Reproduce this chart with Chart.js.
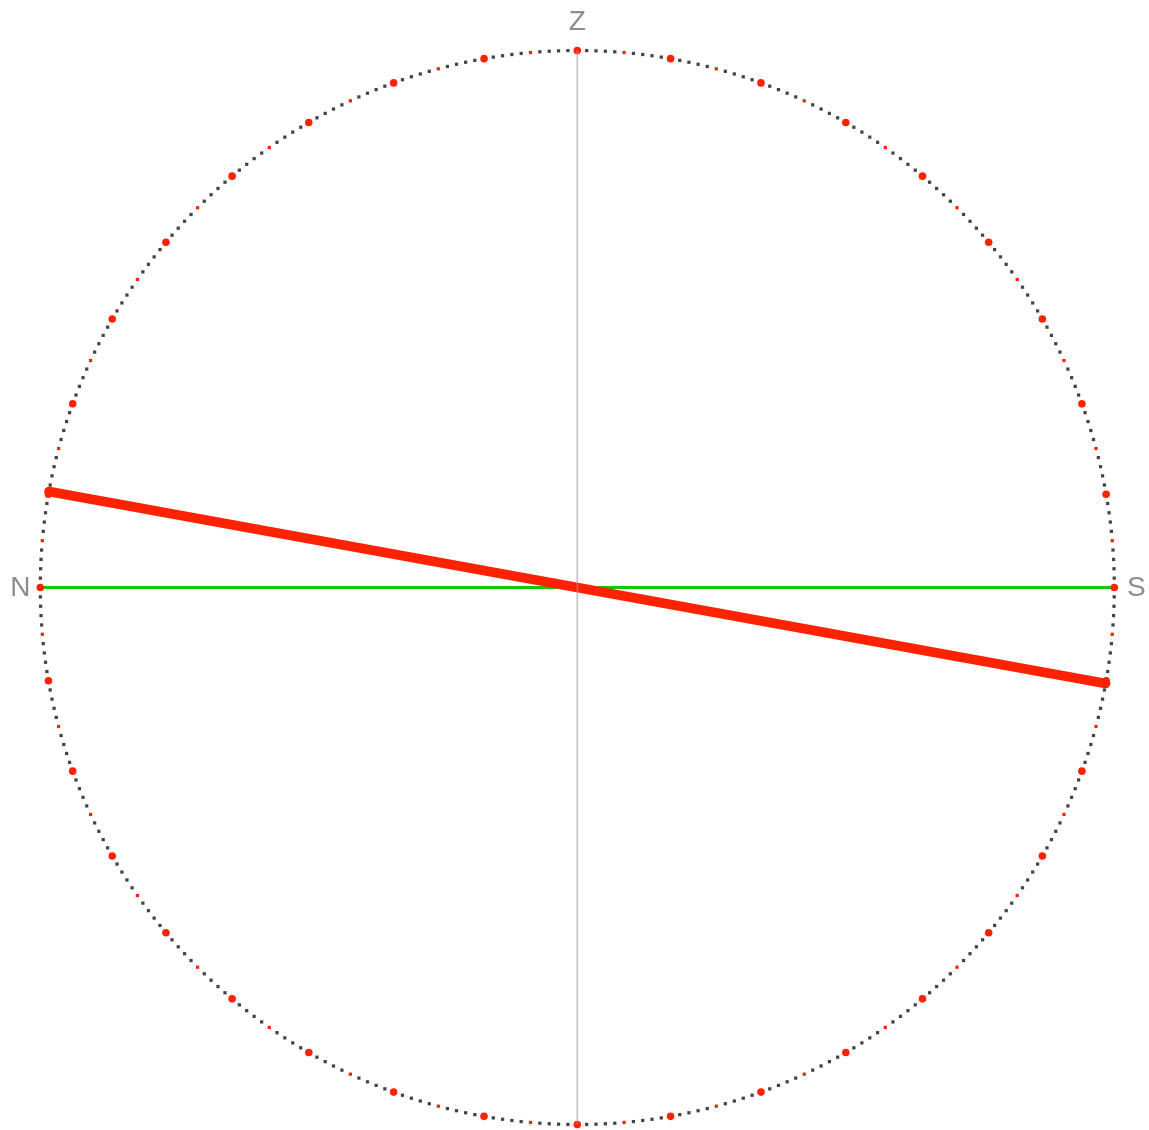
<!DOCTYPE html>
<html><head><meta charset="utf-8">
<script src="https://cdn.jsdelivr.net/npm/chart.js@4/dist/chart.umd.min.js"></script>
<style>html,body{margin:0;padding:0;background:#fff;overflow:hidden}</style>
</head><body>
<canvas id="c" width="1149" height="1130"></canvas>
<script>
// ---- data ----
const majorAngles = [0,10,20,30,40,50,60,70,80,90,100,110,120,130,140,150,160,170,180,190,200,210,220,230,240,250,260,270,280,290,300,310,320,330,340,350];
const minorAngles = [5,15,25,35,45,55,65,75,85,95,105,115,125,135,145,155,165,175,185,195,205,215,225,235,245,255,265,275,285,295,305,315,325,335,345,355];
const dotStepDeg = 1;            // dotted outline of the sphere
const equatorTilt = 10.3;        // degrees, red line tilt
const horizonLabels = ['N', 'S'];
const zenithLabel = 'Z';

// ---- helpers ----
const rad = d => d * Math.PI / 180;
const onCircle = a => ({ x: Math.cos(rad(a)), y: Math.sin(rad(a)) });

const dotAngles = [];
for (let a = 0; a < 360; a += dotStepDeg) if (a % 5 !== 0) dotAngles.push(a);

const equatorPts = [
  { x: -Math.cos(rad(equatorTilt)), y: Math.sin(rad(equatorTilt)) },
  { x: Math.cos(rad(equatorTilt)), y: -Math.sin(rad(equatorTilt)) }
];
const horizonPts = [{ x: -1, y: 0 }, { x: 1, y: 0 }];
const meridianPts = [{ x: 0, y: -1 }, { x: 0, y: 1 }];

const labelPlugin = {
  id: 'labels',
  afterDatasetsDraw(chart) {
    const { ctx, scales: { x, y } } = chart;
    ctx.save();
    ctx.font = '28px "Liberation Sans", Arial, sans-serif';
    ctx.fillStyle = '#8c8c8c';
    ctx.textAlign = 'center';
    ctx.textBaseline = 'middle';
    ctx.fillText(zenithLabel, x.getPixelForValue(0), y.getPixelForValue(1) - 28);
    ctx.fillText(horizonLabels[0], x.getPixelForValue(-1) - 20, y.getPixelForValue(0) + 1);
    ctx.fillText(horizonLabels[1], x.getPixelForValue(1) + 22, y.getPixelForValue(0) + 1);
    ctx.restore();
  }
};

new Chart(document.getElementById('c'), {
  type: 'scatter',
  data: {
    datasets: [
      { label: 'meridian', data: meridianPts, showLine: true, borderColor: 'rgba(150,150,150,0.6)', borderWidth: 1.5, pointRadius: 0, order: 0 },
      { label: 'equator', data: equatorPts, showLine: true, borderColor: '#ff2200', borderWidth: 9.5, borderCapStyle: 'round', pointRadius: 0, order: 1 },
      { label: 'major', data: majorAngles.map(onCircle), backgroundColor: '#ff2200', pointRadius: 3.8, pointBorderWidth: 0, order: 2 },
      { label: 'minor', data: minorAngles.map(onCircle), backgroundColor: '#ff2200', pointStyle: 'rect', pointRadius: 2.3, pointBorderWidth: 0, order: 3 },
      { label: 'dots', data: dotAngles.map(onCircle), backgroundColor: '#444444', pointStyle: 'rect', pointRadius: 2.3, pointBorderWidth: 0, order: 4 },
      { label: 'horizon', data: horizonPts, showLine: true, borderColor: '#11cc00', borderWidth: 3, pointRadius: 0, order: 5 }
    ]
  },
  options: {
    responsive: false,
    animation: false,
    layout: { padding: 0, autoPadding: false },
    plugins: { legend: { display: false }, tooltip: { enabled: false } },
    scales: {
      x: { type: 'linear', display: false, min: -577.3 / 537, max: (1149 - 577.3) / 537 },
      y: { type: 'linear', display: false, min: -(1130 - 587.5) / 537, max: 587.5 / 537 }
    }
  },
  plugins: [labelPlugin]
});
</script>
</body></html>
